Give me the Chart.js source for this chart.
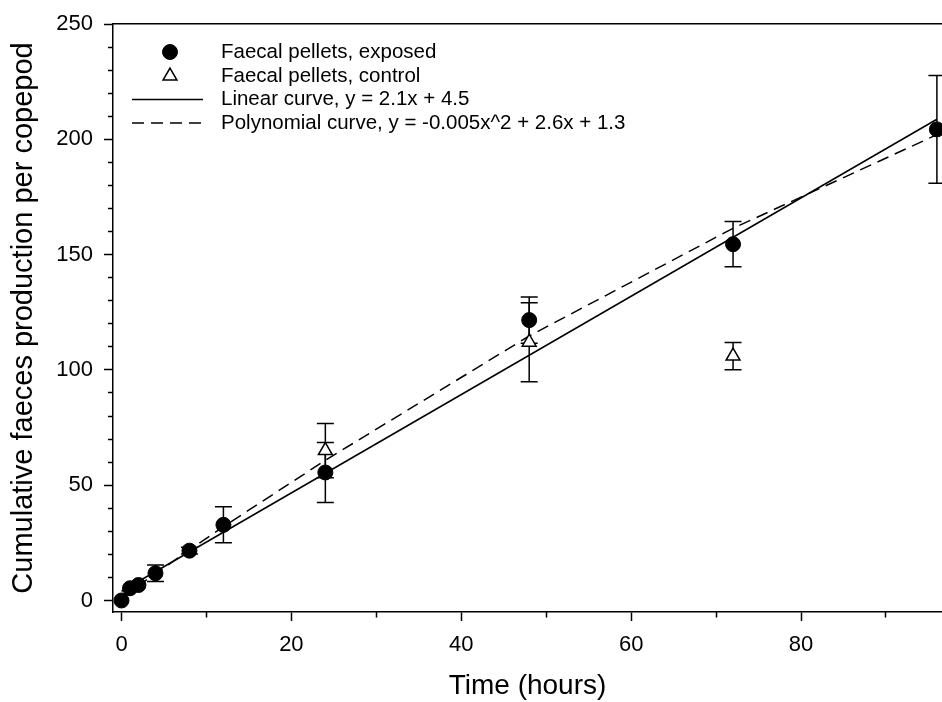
<!DOCTYPE html>
<html>
<head>
<meta charset="utf-8">
<title>Cumulative faeces production per copepod</title>
<script src="https://cdn.jsdelivr.net/npm/chart.js@4.4.1/dist/chart.umd.min.js"></script>
<style>
  html, body { margin: 0; padding: 0; background: #fff; }
  #wrap { width: 942px; height: 702px; }
</style>
</head>
<body>
<div id="wrap"><canvas id="chart" width="942" height="702"></canvas></div>
<script>
// sampling times (hours) and values
const hours = [0, 1, 2, 4, 8, 12, 24, 48, 72, 96];
const exposed = [0, 5.3, 6.7, 11.8, 21.6, 32.8, 55.5, 121.6, 154.5, 204.3];
const exposedErr = [0, 0, 0, 3.6, 1.5, 7.8, 13, 10, 9.8, 23.4];

const controlHours = [24, 48, 72];
const control = [65, 112, 106];
const controlErr = [11.8, 17.1, 5.9];

const linearHours = [0, 96];
const linearFit = [4, 208.7];
const polyFit = [1.3, 3.9, 6.5, 11.6, 21.9, 32, 60.8, 114.7, 161.4, 202];

const xMajorTicks = [0, 20, 40, 60, 80];
const xMinorTicks = [10, 30, 50, 70, 90];
const yMajorTicks = [0, 50, 100, 150, 200, 250];
const yMinorTicks = [10, 20, 30, 40, 60, 70, 80, 90, 110, 120, 130, 140, 160, 170, 180, 190, 210, 220, 230, 240];

const legendLabels = [
    'Faecal pellets, exposed',
    'Faecal pellets, control',
    'Linear curve, y = 2.1x + 4.5',
    'Polynomial curve, y = -0.005x^2 + 2.6x + 1.3'
];

const X_MIN = -1, X_MAX = 96.6, Y_MIN = -5, Y_MAX = 250;
const FONT = "'Liberation Sans', Arial, sans-serif";

Chart.defaults.font.family = FONT;
Chart.defaults.color = '#000';

const pts = (xs, ys) => xs.map((x, i) => ({ x, y: ys[i] }));
const fixedTicks = values => scale => { scale.ticks = values.map(v => ({ value: v })); };
// fixed box size, no extra room for overhanging labels
const fixedHeight = h => s => { s.height = h; s.paddingLeft = 0; s.paddingRight = 0; };
const fixedWidth = w => s => { s.width = w; s.paddingTop = 0; s.paddingBottom = 0; };

// vertical error bars with caps, drawn under the markers
const errorBars = {
    id: 'errorBars',
    beforeDatasetsDraw(chart) {
        const { ctx, scales: { x, y } } = chart;
        const cap = 8.5;
        ctx.save();
        ctx.strokeStyle = '#000';
        ctx.lineWidth = 1.5;
        [[hours, exposed, exposedErr], [controlHours, control, controlErr]].forEach(([xs, ys, es]) => {
            xs.forEach((h, i) => {
                if (!es[i]) return;
                const px = x.getPixelForValue(h);
                const top = y.getPixelForValue(ys[i] + es[i]);
                const bot = y.getPixelForValue(ys[i] - es[i]);
                ctx.beginPath();
                ctx.moveTo(px, top); ctx.lineTo(px, bot);
                ctx.moveTo(px - cap, top); ctx.lineTo(px + cap, top);
                ctx.moveTo(px - cap, bot); ctx.lineTo(px + cap, bot);
                ctx.stroke();
            });
        });
        ctx.restore();
    }
};

// legend sits inside the plot, top left
const insideLegend = {
    id: 'insideLegend',
    afterDraw(chart) {
        const ctx = chart.ctx;
        const rows = [52, 76, 99.5, 123];
        const ds = chart.data.datasets;
        ctx.save();
        ctx.fillStyle = '#000';
        ctx.strokeStyle = '#000';
        ctx.textBaseline = 'middle';
        ctx.font = '20.5px ' + FONT;
        ds.forEach((d, i) => {
            const y = rows[i];
            if (d.showLine) {
                ctx.lineWidth = d.borderWidth;
                ctx.setLineDash(d.borderDash || []);
                ctx.beginPath();
                ctx.moveTo(132, y); ctx.lineTo(203, y);
                ctx.stroke();
                ctx.setLineDash([]);
            } else {
                ctx.fillStyle = d.backgroundColor;
                ctx.lineWidth = d.borderWidth;
                Chart.helpers.drawPoint(ctx, { pointStyle: d.pointStyle, radius: d.pointRadius, borderWidth: d.borderWidth }, 170, y);
                ctx.fillStyle = '#000';
            }
            ctx.fillText(legendLabels[i], 221, y);
        });
        ctx.restore();
    }
};

const tickGrid = len => ({ drawOnChartArea: false, drawTicks: true, tickLength: len, tickWidth: 1.5, tickColor: '#000' });

new Chart(document.getElementById('chart'), {
    type: 'scatter',
    data: {
        datasets: [
            {
                label: legendLabels[0], data: pts(hours, exposed), order: 0, clip: false,
                pointStyle: 'circle', pointRadius: 7.5, borderWidth: 1,
                backgroundColor: '#000', borderColor: '#000'
            },
            {
                label: legendLabels[1], data: pts(controlHours, control), order: 1, clip: false,
                pointStyle: 'triangle', pointRadius: 8, borderWidth: 1.5,
                backgroundColor: '#fff', borderColor: '#000'
            },
            {
                label: legendLabels[2], data: pts(linearHours, linearFit), order: 2,
                showLine: true, pointRadius: 0, borderWidth: 1.5, borderColor: '#000'
            },
            {
                label: legendLabels[3], data: pts(hours, polyFit), order: 3,
                showLine: true, pointRadius: 0, borderWidth: 1.5, borderColor: '#000', borderDash: [12, 7]
            }
        ]
    },
    options: {
        responsive: false,
        devicePixelRatio: 1,
        animation: false,
        events: [],
        layout: { autoPadding: false, padding: { top: 24, left: 0, right: 0, bottom: 0 } },
        plugins: { legend: { display: false }, tooltip: { enabled: false } },
        scales: {
            x: {
                type: 'linear', position: 'bottom', min: X_MIN, max: X_MAX, weight: 1,
                afterBuildTicks: fixedTicks(xMajorTicks),
                afterFit: fixedHeight(90),
                grid: tickGrid(9),
                border: { display: true, color: '#000', width: 1.5 },
                ticks: { padding: 11, font: { size: 22 }, color: '#000', maxRotation: 0, autoSkip: false },
                title: { display: true, text: 'Time (hours)', font: { size: 28, lineHeight: 1.1 }, padding: { top: 0, bottom: 0 }, color: '#000' }
            },
            xMinor: {
                type: 'linear', axis: 'x', position: 'bottom', min: X_MIN, max: X_MAX, weight: 0,
                afterBuildTicks: fixedTicks(xMinorTicks),
                afterFit: fixedHeight(0),
                grid: tickGrid(5.5),
                border: { display: false },
                ticks: { display: false }
            },
            xTop: {
                type: 'linear', axis: 'x', position: 'top', min: X_MIN, max: X_MAX,
                afterFit: fixedHeight(0),
                grid: { display: false },
                border: { display: true, color: '#000', width: 1.5 },
                ticks: { display: false }
            },
            y: {
                type: 'linear', position: 'left', min: Y_MIN, max: Y_MAX, weight: 1,
                afterBuildTicks: fixedTicks(yMajorTicks),
                afterFit: fixedWidth(113),
                grid: tickGrid(9),
                border: { display: true, color: '#000', width: 1.5 },
                ticks: { padding: 11, font: { size: 22 }, color: '#000' },
                title: { display: true, text: 'Cumulative faeces production per copepod', font: { size: 29 }, padding: { top: 7, bottom: 0 }, color: '#000' }
            },
            yMinor: {
                type: 'linear', axis: 'y', position: 'left', min: Y_MIN, max: Y_MAX, weight: 0,
                afterBuildTicks: fixedTicks(yMinorTicks),
                afterFit: fixedWidth(0),
                grid: tickGrid(5),
                border: { display: false },
                ticks: { display: false }
            }
        }
    },
    plugins: [errorBars, insideLegend]
});
</script>
</body>
</html>
